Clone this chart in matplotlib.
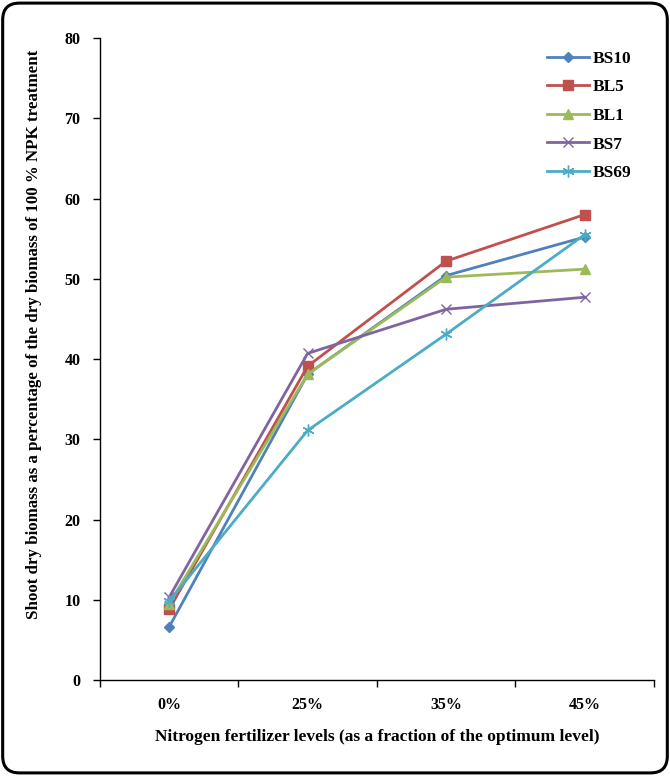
import matplotlib
matplotlib.use("Agg")
import matplotlib.pyplot as plt
from matplotlib.patches import FancyBboxPatch

categories = ["0%", "25%", "35%", "45%"]
series_names = ["BS10", "BL5", "BL1", "BS7", "BS69"]
bs10 = [6.6, 38.1, 50.4, 55.2]
bl5 = [8.8, 39.1, 52.2, 58.0]
bl1 = [9.5, 38.1, 50.2, 51.2]
bs7 = [10.3, 40.7, 46.2, 47.7]
bs69 = [9.8, 31.1, 43.1, 55.5]
yticks = [0, 10, 20, 30, 40, 50, 60, 70, 80]

colors = ["#4F81BD", "#C0504D", "#9BBB59", "#8064A2", "#4BACC6"]
markers = ["D", "s", "^", "x", (6, 2, 0)]
msizes = [5.5, 7.5, 7.5, 7.5, 8.5]

plt.rcParams['font.family'] = ['Liberation Serif', 'DejaVu Serif']
plt.rcParams['font.weight'] = 'bold'

fig = plt.figure(figsize=(6.7, 7.76), dpi=100)
border = FancyBboxPatch((0.004, 0.004), 0.992, 0.992, boxstyle="round,pad=0,rounding_size=0.025",
                        transform=fig.transFigure, fill=False, edgecolor="black", linewidth=2.2,
                        mutation_aspect=670/776)
fig.patches.append(border)

ax = fig.add_axes([0.149, 0.1237, 0.827, 0.8273])
x = list(range(len(categories)))
for name, vals, c, m, ms in zip(series_names, [bs10, bl5, bl1, bs7, bs69], colors, markers, msizes):
    ax.plot(x, vals, color=c, linewidth=2.0, marker=m, markersize=ms,
            markeredgecolor=c, markerfacecolor=c, markeredgewidth=1.0, label=name)

ax.set_xlim(-0.5, 3.5)
ax.set_ylim(0, 80)
ax.set_yticks(yticks)
ax.set_yticklabels([str(v) for v in yticks], fontsize=11.5, fontweight='bold')
ax.set_xticks([-0.5, 0.5, 1.5, 2.5, 3.5])
ax.set_xticklabels([])
ax.set_xticks(x, minor=True)
ax.set_xticklabels(categories, minor=True, fontsize=11.5, fontweight='bold')
ax.tick_params(axis='x', which='minor', length=0, pad=12)
ax.tick_params(axis='x', which='major', length=5, direction='out', width=1)
ax.tick_params(axis='y', length=5, direction='out', width=1, pad=9)
for s in ["top", "right"]:
    ax.spines[s].set_visible(False)
ax.spines["left"].set_linewidth(1)
ax.spines["bottom"].set_linewidth(1)

ax.set_xlabel("Nitrogen fertilizer levels (as a fraction of the optimum level)", fontsize=12.5,
              fontweight='bold', labelpad=12)
ax.set_ylabel("Shoot dry biomass as a percentage of the dry biomass of 100 % NPK treatment",
              fontsize=12.2, fontweight='bold')
ax.yaxis.set_label_coords(-0.105, 0.539)

leg = ax.legend(loc="upper right", bbox_to_anchor=(0.987, 1.005), frameon=False,
                prop={'family': 'Liberation Serif', 'weight': 'bold', 'size': 12.5},
                handlelength=2.4, labelspacing=0.72, handletextpad=0.2)

fig.savefig("out.png", dpi=100)
